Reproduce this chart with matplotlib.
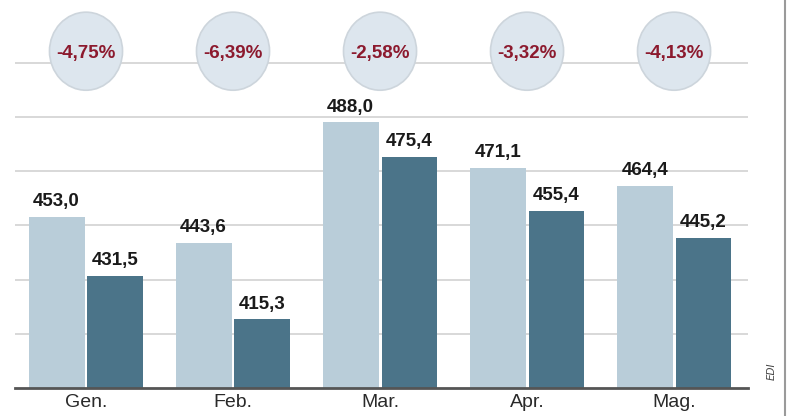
import matplotlib.pyplot as plt
import numpy as np
from matplotlib.patches import Ellipse
from matplotlib.lines import Line2D

# Data
months = ['Gen.', 'Feb.', 'Mar.', 'Apr.', 'Mag.']
prev_year = [453.0, 443.6, 488.0, 471.1, 464.4]
this_year = [431.5, 415.3, 475.4, 455.4, 445.2]
changes = ['-4,75%', '-6,39%', '-2,58%', '-3,32%', '-4,13%']

light = '#b9cdd9'
dark = '#4b7489'
narrow = ['Liberation Sans Narrow', 'Liberation Sans', 'DejaVu Sans']

fig = plt.figure(figsize=(7.89, 4.16), dpi=100)
ax = fig.add_axes([15 / 789, 28 / 416, (748 - 15) / 789, 388 / 416])

x = np.arange(len(months))
w = 0.38
b1 = ax.bar(x - 0.2, prev_year, w, color=light, zorder=2)
b2 = ax.bar(x + 0.2, this_year, w, color=dark, zorder=2)

def fmt(v):
    return f'{v:.1f}'.replace('.', ',')

for bars, vals in [(b1, prev_year), (b2, this_year)]:
    for r, v in zip(bars, vals):
        ax.annotate(fmt(v), (r.get_x() + r.get_width() / 2, v),
                    xytext=(0, 5), textcoords='offset points',
                    ha='center', va='bottom', fontsize=13.5, fontweight='bold',
                    family=['Liberation Sans', 'DejaVu Sans'], color='#1a1a1a', zorder=4)

ax.set_ylim(390, 533.2)
ax.set_xlim(-0.483, 4.503)

# grid lines
for g in [410, 430, 450, 470, 490, 510]:
    ax.axhline(g, color='#d6d6d6', lw=1.3, zorder=1)

# bubbles with percentage change
for i, c in enumerate(changes):
    e = Ellipse((i, 514.3), 0.497, 28.8, facecolor='#dde6ee',
                edgecolor='#cdd5dc', lw=1.2, zorder=3)
    ax.add_patch(e)
    ax.text(i, 513.4, c, ha='center', va='center', fontsize=13.5,
            fontweight='bold', family=narrow, color='#8c1a2e', zorder=4)

for s in ['top', 'right', 'left']:
    ax.spines[s].set_visible(False)
ax.spines['bottom'].set_color('#555555')
ax.spines['bottom'].set_linewidth(2)
ax.spines['bottom'].set_zorder(5)
ax.set_yticks([])
ax.set_xticks(x)
ax.set_xticklabels(months, fontsize=14, family=narrow, color='#2a2a2a')
ax.tick_params(axis='x', length=0, pad=4)

fig.text(772 / 789, 1 - 371 / 416, 'EDI', rotation=90, ha='center', va='center',
         fontsize=7.5, style='italic', color='#444444')
fig.add_artist(Line2D([785 / 789, 785 / 789], [0, 1], color='#9a9a9a', lw=1.5))

fig.savefig('out.png', dpi=100)
